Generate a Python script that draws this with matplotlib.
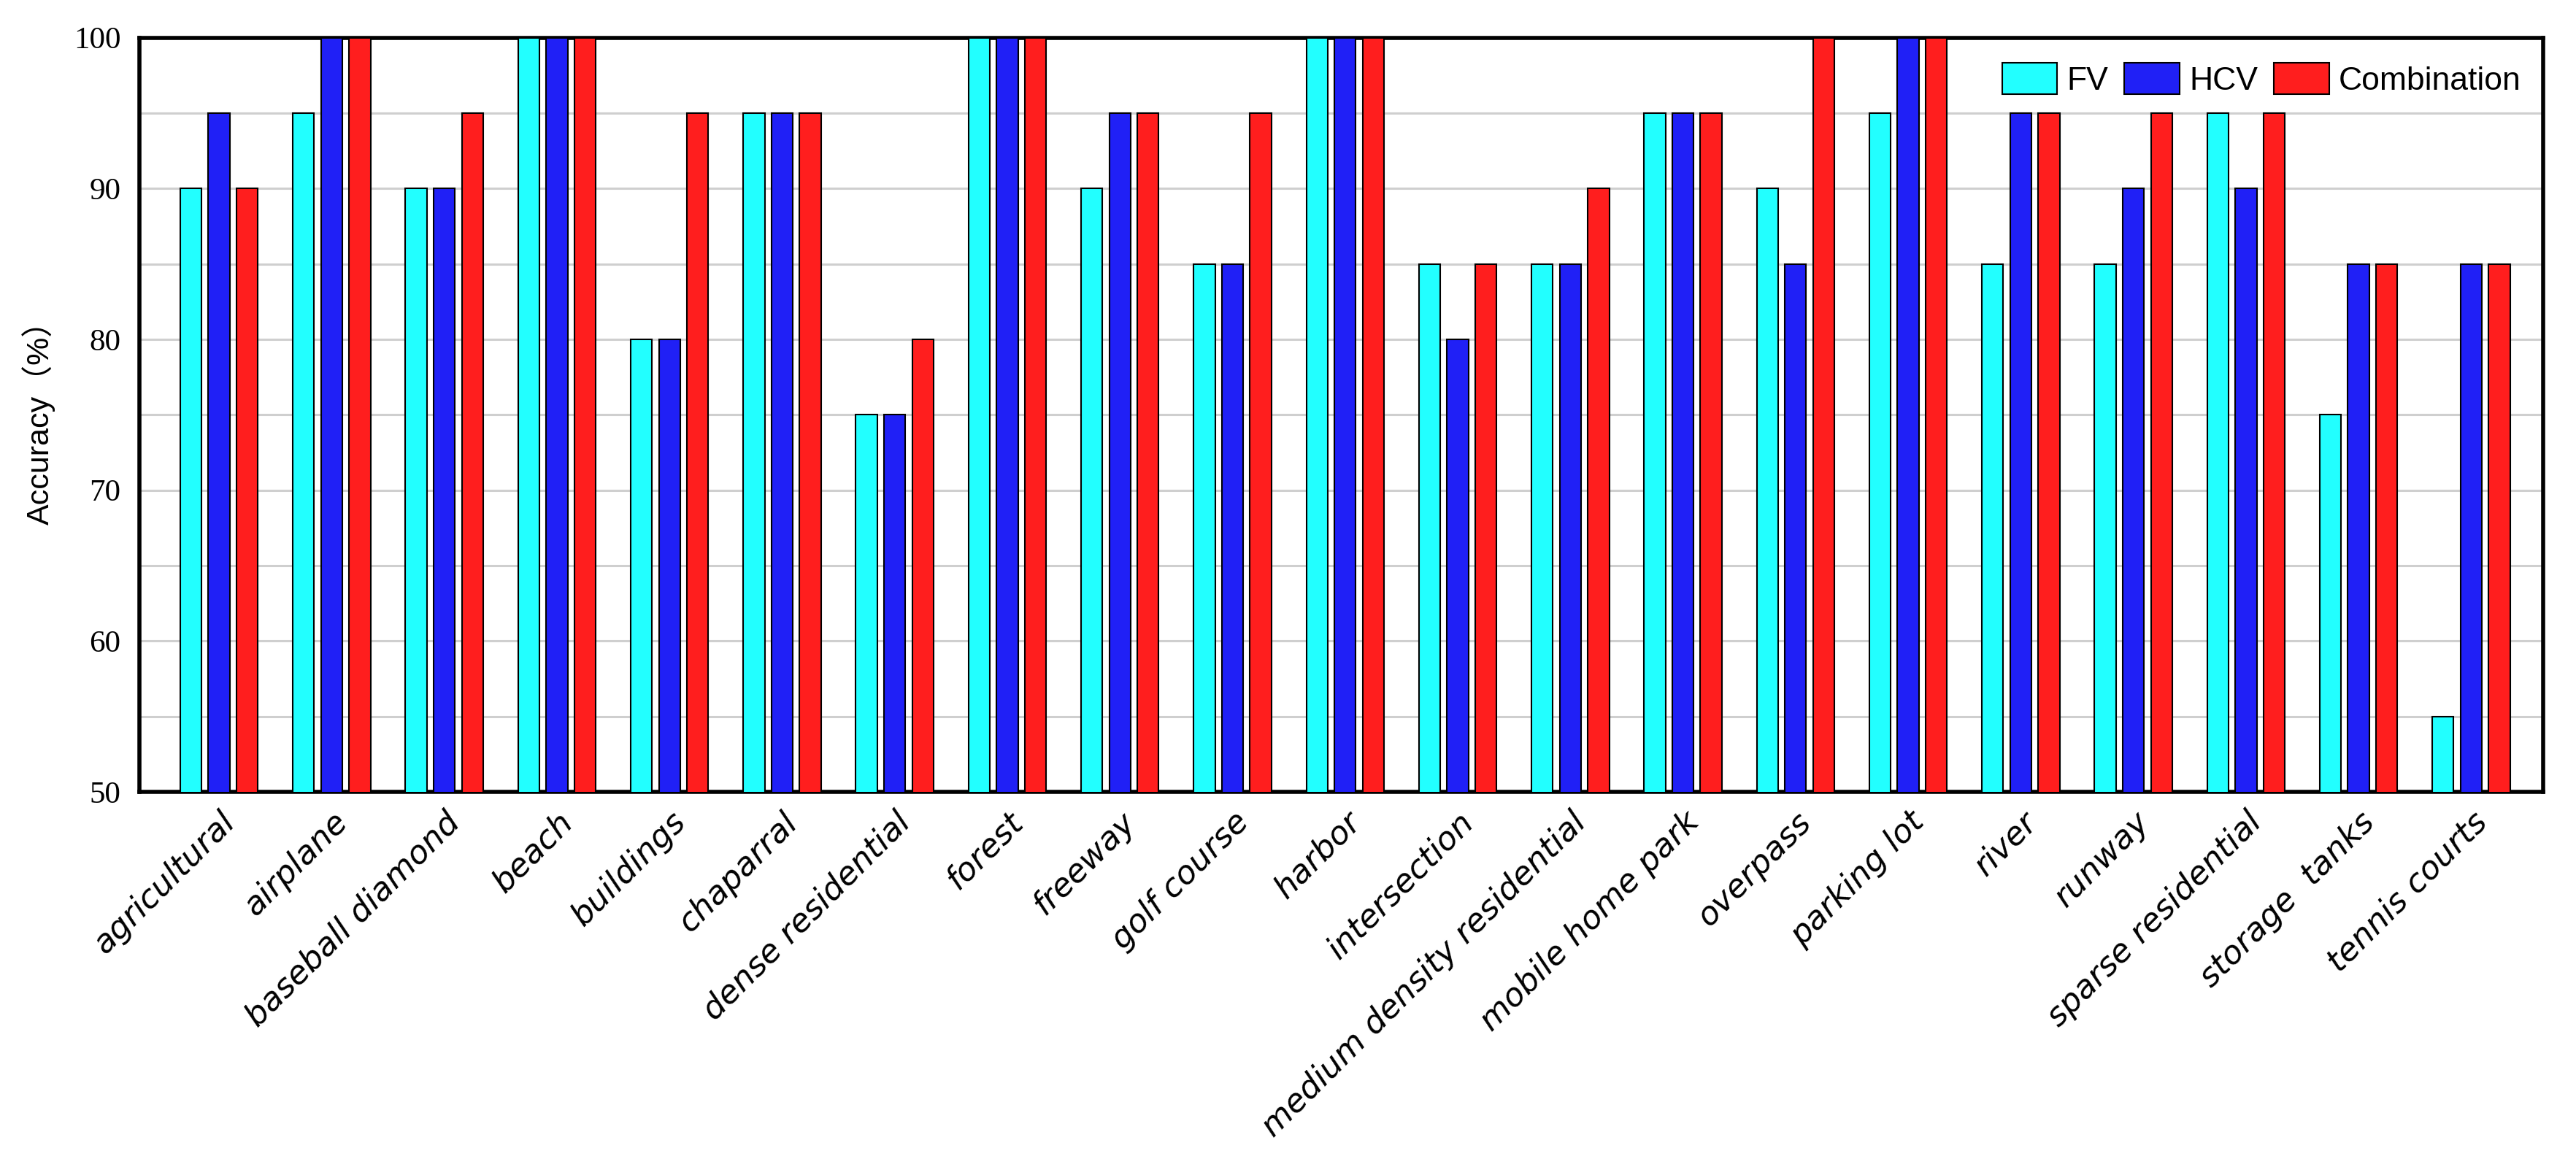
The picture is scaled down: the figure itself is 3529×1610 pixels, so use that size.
import matplotlib
matplotlib.use('Agg')
from matplotlib import pyplot as plt
import numpy as np

categories = ['agricultural', 'airplane', 'baseball diamond', 'beach', 'buildings',
              'chaparral', 'dense residential', 'forest', 'freeway', 'golf course',
              'harbor', 'intersection', 'medium density residential', 'mobile home park',
              'overpass', 'parking lot', 'river', 'runway', 'sparse residential',
              'storage  tanks', 'tennis courts']
fv = [90, 95, 90, 100, 80, 95, 75, 100, 90, 85, 100, 85, 85, 95, 90, 95, 85, 85, 95, 75, 55]
hcv = [95, 100, 90, 100, 80, 95, 75, 100, 95, 85, 100, 80, 85, 95, 85, 100, 95, 90, 90, 85, 85]
combination = [90, 100, 95, 100, 95, 95, 80, 100, 95, 95, 100, 85, 90, 95, 100, 100, 95, 95, 95, 85, 85]
y_ticks = [50, 60, 70, 80, 90, 100]

fig = plt.figure(figsize=(35.3, 16.1), dpi=100)
ax = fig.add_axes([0.054, 0.326, 0.933, 0.642])

x = np.arange(len(categories))
w = 0.19
off = 0.25
ax.bar(x - off, fv, w, color='#22FFFF', edgecolor='black', linewidth=1.5, label='FV', zorder=3)
ax.bar(x, hcv, w, color='#2020F6', edgecolor='black', linewidth=1.5, label='HCV', zorder=3)
ax.bar(x + off, combination, w, color='#FF1E1E', edgecolor='black', linewidth=1.5, label='Combination', zorder=3)

ax.set_ylim(50, 100)
ax.set_xlim(-0.71, len(categories) - 1 + 0.64)
ax.set_yticks(y_ticks)
ax.set_yticks(np.arange(55, 100, 10), minor=True)
ax.yaxis.grid(True, which='both', color='#CFCFCF', linewidth=2.2, zorder=0)
ax.tick_params(axis='both', which='both', length=0)
ax.tick_params(axis='y', pad=18)
ax.tick_params(axis='x', pad=14)

for lab in ax.get_yticklabels():
    lab.set_family('Liberation Serif')
    lab.set_fontsize(31)

ax.set_xticks(x)
ax.set_xticklabels(categories, rotation=45, ha='right', rotation_mode='anchor',
                   fontsize=32, style='italic', family='DejaVu Sans')

ax.set_ylabel('Accuracy（%）', fontsize=31, family=['Liberation Sans', 'Noto Sans CJK SC'], labelpad=18)

for s in ax.spines.values():
    s.set_linewidth(4)

ax.legend(loc='upper right', ncol=3, frameon=False,
          handlelength=1.7, handleheight=1.1, handletextpad=0.3, columnspacing=0.5,
          bbox_to_anchor=(1.003, 1.005), prop={'family': 'Liberation Sans', 'size': 32})

fig.savefig('out.png', dpi=100)
